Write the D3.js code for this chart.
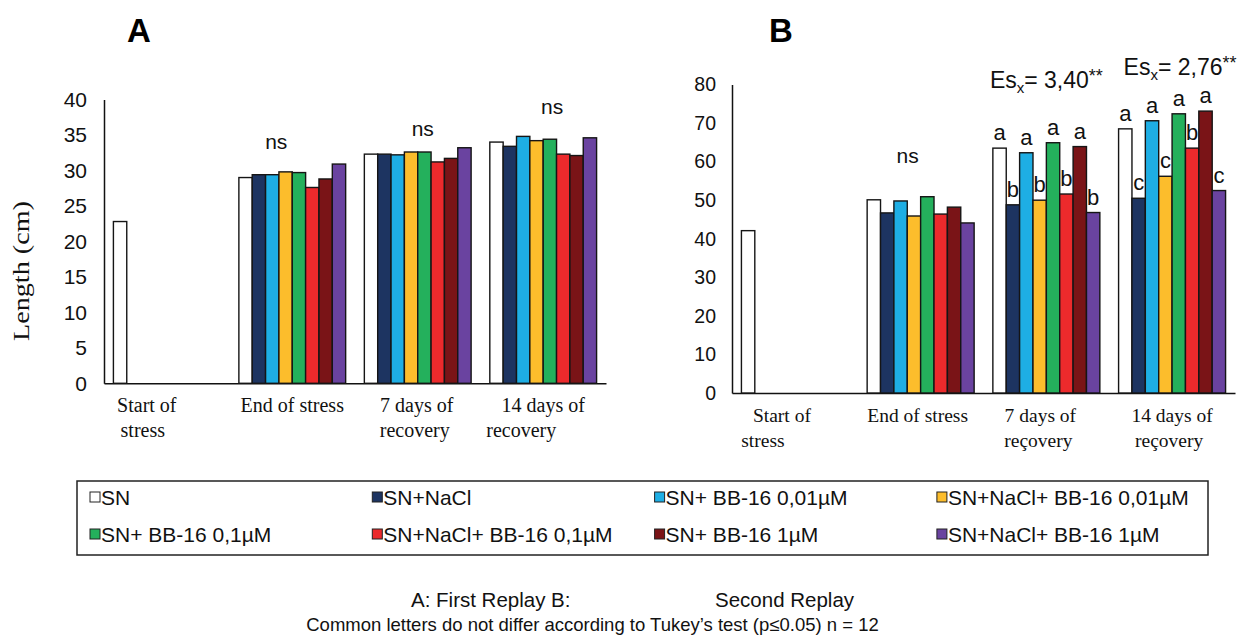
<!DOCTYPE html>
<html>
<head>
<meta charset="utf-8">
<script src="https://cdnjs.cloudflare.com/ajax/libs/d3/7.8.5/d3.min.js"></script>
<style>
  body { margin: 0; background: #fff; }
  svg { display: block; font-family: "Liberation Sans", Arial, sans-serif; }
</style>
</head>
<body>
<div id="chart"></div>
<script>
(function() {
"use strict";

const CATEGORIES = ["Start of stress", "End of stress", "7 days of recovery", "14 days of recovery"];
const LABELS_A = [["Start of", "stress"], ["End of stress"], ["7 days of", "recovery"], ["14 days of", "recovery"]];
const LABELS_B = [["Start of", "stress"], ["End of stress"], ["7 days of", "reçovery"], ["14 days of", "reçovery"]];

const SERIES = ["SN", "SN+NaCl", "SN+ BB-16 0,01µM", "SN+NaCl+ BB-16 0,01µM",
                "SN+ BB-16 0,1µM", "SN+NaCl+ BB-16 0,1µM", "SN+ BB-16 1µM", "SN+NaCl+ BB-16 1µM"];
const COLORS = ["#ffffff", "#1d3461", "#1eaee4", "#fcbd2c", "#24b05c", "#ec2a2c", "#7a1417", "#6a43a0"];

// A: first replay, one array per date (series order as SERIES)
const A_START = [22.8];
const A_END = [29.0, 29.4, 29.4, 29.8, 29.7, 27.6, 28.8, 30.9];
const A_DAY7 = [32.3, 32.3, 32.2, 32.6, 32.6, 31.2, 31.7, 33.2];
const A_DAY14 = [34.0, 33.4, 34.8, 34.2, 34.4, 32.3, 32.1, 34.6];

// B: second replay
const B_START = [42.1];
const B_END = [50.1, 46.7, 49.8, 45.9, 50.9, 46.4, 48.2, 44.1];
const B_DAY7 = [63.5, 48.8, 62.3, 50.0, 64.9, 51.6, 63.9, 46.8];
const B_DAY14 = [68.5, 50.5, 70.6, 56.2, 72.4, 63.5, 73.1, 52.5];

// Tukey letters for B
const B_LETTERS = [[], [], ["a", "b", "a", "b", "a", "b", "a", "b"], ["a", "c", "a", "c", "a", "b", "a", "c"]];

const TICKS_A = [0, 5, 10, 15, 20, 25, 30, 35, 40];
const TICKS_B = [0, 10, 20, 30, 40, 50, 60, 70, 80];

// "ns" marks and Es(x) notes, with the value level they sit at
const NS_A = ["", "ns", "ns", "ns"];
const NS_A_LEVEL = [0, 33.0, 34.9, 37.9];
const NS_B = ["", "ns", "", ""];
const NS_B_LEVEL = [0, 59.6, 0, 0];
const ES_B = ["", "", "3,40", "2,76"];
const ES_B_LEVEL = [0, 0, 79.0, 82.5];

const WIDTH = 1242;
const HEIGHT = 635;
const SANS = "'Liberation Sans', Arial, sans-serif";
const SERIF = "'Liberation Serif', 'Times New Roman', serif";

const SVG = d3.select("#chart")
              .append("svg")
              .attr("width", WIDTH)
              .attr("height", HEIGHT);

function drawPanel(cfg) {
  const g = SVG.append("g").attr("class", "panel-" + cfg.name);

  const y = d3.scaleLinear()
              .domain([0, cfg.max])
              .range([cfg.bottom, cfg.top]);

  const x0 = d3.scaleBand()
               .domain(CATEGORIES)
               .range(cfg.xRange)
               .paddingInner(0.149)
               .paddingOuter(0.075);

  const x1 = d3.scaleBand()
               .domain(SERIES)
               .range([0, x0.bandwidth()]);

  // flatten values
  const rows = [];
  cfg.values.forEach((arr, ci) => {
    arr.forEach((v, si) => {
      rows.push({ cat: CATEGORIES[ci], ci: ci, si: si, series: SERIES[si], value: v, letter: (cfg.letters[ci] || [])[si] });
    });
  });

  // y axis
  const yAxis = d3.axisLeft(y)
                  .tickValues(cfg.ticks)
                  .tickSize(0)
                  .tickPadding(cfg.tickPad);

  const ya = g.append("g")
    .attr("transform", `translate(${cfg.xRange[0]}, 0)`)
    .call(yAxis);
  ya.select(".domain").attr("stroke", "#111").attr("stroke-width", 1.5);
  ya.selectAll(".tick text")
    .attr("fill", "#111")
    .style("font-family", SANS)
    .style("font-size", cfg.tickFont + "px");

  // x axis, labels drawn as wrapped serif text
  const xAxis = d3.axisBottom(x0).tickSize(0).tickFormat(() => "");
  const xa = g.append("g")
    .attr("transform", `translate(0, ${y(0)})`)
    .call(xAxis);
  xa.select(".domain").attr("stroke", "#111").attr("stroke-width", 1.5);
  xa.selectAll(".tick text").remove();
  xa.selectAll(".tick").each(function(d, i) {
    const t = d3.select(this).append("text")
      .attr("text-anchor", "middle")
      .attr("fill", "#111")
      .style("font-family", SERIF)
      .style("font-size", cfg.catFont + "px");
    cfg.labels[i].forEach((line, li) => {
      t.append("tspan")
        .attr("x", cfg.labelShift[i][li] || 0)
        .attr("y", 28.5 + li * 25)
        .text(line);
    });
  });

  // bars
  g.selectAll("rect.bar")
    .data(rows)
    .enter()
    .append("rect")
      .attr("class", "bar")
      .attr("x", d => x0(d.cat) + x1(d.series))
      .attr("y", d => y(d.value))
      .attr("width", x1.bandwidth())
      .attr("height", d => y(0) - y(d.value))
      .attr("fill", d => COLORS[d.si])
      .attr("stroke", "#151515")
      .attr("stroke-width", 1.4);

  // letters over bars
  g.selectAll("text.letter")
    .data(rows.filter(d => d.letter))
    .enter()
    .append("text")
      .attr("class", "letter")
      .attr("x", d => x0(d.cat) + x1(d.series) + x1.bandwidth() / 2)
      .attr("y", d => y(d.value) - 8)
      .attr("text-anchor", "middle")
      .attr("fill", "#111")
      .style("font-size", "22px")
      .text(d => d.letter);

  // ns marks
  cfg.ns.forEach((s, ci) => {
    if (!s) return;
    g.append("text")
      .attr("x", x0(CATEGORIES[ci]) + x0.bandwidth() / 2 + cfg.nsShift[ci])
      .attr("y", y(cfg.nsLevel[ci]))
      .attr("text-anchor", "middle")
      .attr("fill", "#111")
      .style("font-size", "21px")
      .text(s);
  });

  // Es(x) notes
  (cfg.es || []).forEach((s, ci) => {
    if (!s) return;
    const t = g.append("text")
      .attr("x", x0(CATEGORIES[ci]) + x0.bandwidth() / 2 + (ci === 3 ? 8 : 0))
      .attr("y", y(cfg.esLevel[ci]))
      .attr("text-anchor", "middle")
      .attr("fill", "#111")
      .style("font-size", "23px");
    t.append("tspan").text("Es");
    t.append("tspan").attr("dy", 5).style("font-size", "15px").text("x");
    t.append("tspan").attr("dy", -5).text("= " + s);
    t.append("tspan").attr("dy", -6).style("font-size", "18px").text("**");
  });

  // panel title
  SVG.append("text")
    .attr("x", cfg.titleX)
    .attr("y", 41.5)
    .attr("text-anchor", "middle")
    .attr("fill", "#000")
    .style("font-size", "33px")
    .style("font-weight", "bold")
    .text(cfg.name);
}

drawPanel({
  name: "A",
  values: [A_START, A_END, A_DAY7, A_DAY14],
  letters: [],
  labels: LABELS_A,
  labelShift: [[-20, -24], [0], [-1, -3], [0, -22]],
  ticks: TICKS_A,
  max: 40,
  xRange: [104, 606],
  bottom: 383.3,
  top: 99.5,
  tickPad: 17,
  tickFont: 21,
  catFont: 20,
  ns: NS_A,
  nsLevel: NS_A_LEVEL,
  nsShift: [0, -16, 5, 9],
  titleX: 139
});

drawPanel({
  name: "B",
  values: [B_START, B_END, B_DAY7, B_DAY14],
  letters: B_LETTERS,
  labels: LABELS_B,
  labelShift: [[-13, -32], [-3], [-6, -8], [0, -3]],
  ticks: TICKS_B,
  max: 80,
  xRange: [732, 1235],
  bottom: 393,
  top: 84.5,
  tickPad: 16,
  tickFont: 19.5,
  catFont: 19.5,
  ns: NS_B,
  nsLevel: NS_B_LEVEL,
  nsShift: [0, -13, 0, 0],
  es: ES_B,
  esLevel: ES_B_LEVEL,
  titleX: 781
});

// y title (shared)
SVG.append("text")
  .attr("transform", "translate(28.5, 271) rotate(-90)")
  .attr("text-anchor", "middle")
  .attr("fill", "#111")
  .attr("textLength", 140)
  .attr("lengthAdjust", "spacingAndGlyphs")
  .style("font-family", SERIF)
  .style("font-size", "23px")
  .text("Length (cm)");

// legend
const LEG_X = 77, LEG_Y = 481, LEG_W = 1131, LEG_H = 74;
const legend = SVG.append("g").attr("class", "legend");
legend.append("rect")
  .attr("x", LEG_X)
  .attr("y", LEG_Y)
  .attr("width", LEG_W)
  .attr("height", LEG_H)
  .attr("fill", "none")
  .attr("stroke", "#222")
  .attr("stroke-width", 1.5);

const item = legend.selectAll("g.item")
  .data(SERIES)
  .enter()
  .append("g")
    .attr("class", "item")
    .attr("transform", (d, i) => `translate(${90 + (i % 4) * 282.3}, ${497 + Math.floor(i / 4) * 37})`);

item.append("rect")
  .attr("x", 0)
  .attr("y", -5)
  .attr("width", 10)
  .attr("height", 10)
  .attr("fill", (d, i) => COLORS[i])
  .attr("stroke", "#222")
  .attr("stroke-width", 1);

item.append("text")
  .attr("x", 11)
  .attr("dy", "0.36em")
  .attr("fill", "#111")
  .style("font-size", "21px")
  .text(d => d);

// footnote
SVG.append("text")
  .attr("x", 411)
  .attr("y", 607)
  .attr("fill", "#111")
  .style("font-size", "20.5px")
  .text("A: First Replay B:");

SVG.append("text")
  .attr("x", 715)
  .attr("y", 607)
  .attr("fill", "#111")
  .style("font-size", "20.5px")
  .text("Second Replay");

SVG.append("text")
  .attr("x", 592.5)
  .attr("y", 630.5)
  .attr("text-anchor", "middle")
  .attr("fill", "#111")
  .style("font-size", "18.5px")
  .text("Common letters do not differ according to Tukey\u2019s test (p\u22640.05) n = 12");

})();
</script>
</body>
</html>
